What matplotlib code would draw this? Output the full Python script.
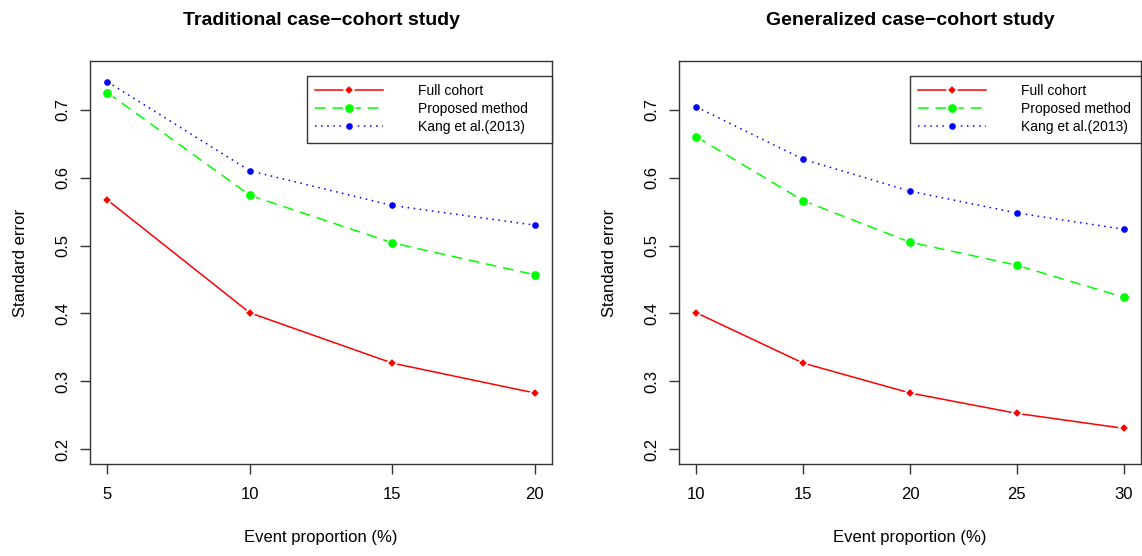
import numpy as np
import matplotlib
matplotlib.use("Agg")
import matplotlib.pyplot as plt

plt.rcParams['font.family'] = ['Liberation Sans', 'DejaVu Sans']

# datos
prop_trad = [5, 10, 15, 20]
full_trad = [0.567, 0.401, 0.327, 0.283]
prop_meth_trad = [0.725, 0.574, 0.504, 0.457]
kang_trad = [0.741, 0.610, 0.559, 0.530]

prop_gen = [10, 15, 20, 25, 30]
full_gen = [0.401, 0.327, 0.283, 0.253, 0.231]
prop_meth_gen = [0.660, 0.566, 0.505, 0.471, 0.424]
kang_gen = [0.704, 0.627, 0.580, 0.548, 0.524]

titulos = ["Traditional case\u2212cohort study", "Generalized case\u2212cohort study"]
nombres = ["Full cohort", "Proposed method", "Kang et al.(2013)"]
yticks = [0.2, 0.3, 0.4, 0.5, 0.6, 0.7]

fig = plt.figure(figsize=(11.42, 5.56), dpi=100)
ax1 = fig.add_axes([0.0791, 0.1649, 0.4040, 0.7259])
ax2 = fig.add_axes([0.5948, 0.1649, 0.4040, 0.7259])

paneles = [
    (ax1, prop_trad, full_trad, prop_meth_trad, kang_trad, titulos[0], 0.469, 0.531),
    (ax2, prop_gen, full_gen, prop_meth_gen, kang_gen, titulos[1], 0.4998, 0.5002),
]

for ax, x, full, prop, kang, titulo, lx, lw in paneles:
    # marcadores con borde blanco para imitar el type="b" de R
    ax.plot(x, full, color='#FF0000', lw=1.1, ls='-', marker='D', ms=5,
            mfc='#FF0000', mec='white', mew=1.2, label=nombres[0])
    ax.plot(x, prop, color='#00FF00', lw=1.1, ls=(0, (7, 4.5)), marker='o', ms=7.5,
            mfc='#00FF00', mec='white', mew=1.2, label=nombres[1])
    ax.plot(x, kang, color='#0000FF', lw=1.1, ls=(0, (1, 3)), marker='o', ms=5.8,
            mfc='#0000FF', mec='white', mew=1.0, label=nombres[2])

    # limites con el 4% extra como en R
    rx = x[-1] - x[0]
    ax.set_xlim(x[0] - 0.04 * rx, x[-1] + 0.04 * rx)
    ax.set_ylim(0.2 - 0.04 * 0.55, 0.75 + 0.04 * 0.55)
    ax.set_xticks(x)
    ax.set_yticks(yticks)
    ax.set_yticklabels([str(v) for v in yticks])
    ax.tick_params(axis='both', direction='out', length=7.2, width=1, labelsize=12, color='#333333')
    ax.tick_params(axis='x', pad=9)
    ax.tick_params(axis='y', pad=7, labelrotation=90)
    for lab in ax.get_yticklabels():
        lab.set_va('center')
    for s in ax.spines.values():
        s.set_linewidth(1)
        s.set_color('#333333')

    ax.set_xlabel("Event proportion (%)", fontsize=12, labelpad=20)
    ax.set_ylabel("Standard error", fontsize=12, labelpad=20)
    ax.set_title(titulo, fontsize=14, fontweight='bold', pad=26)

    leg = ax.legend(loc='upper left', bbox_to_anchor=(lx, 0.963, lw, 0.0), mode='expand',
                    fontsize=10, frameon=True, fancybox=False, framealpha=1,
                    edgecolor='#333333', handlelength=4.9, handletextpad=2.5,
                    borderpad=0.6, labelspacing=0.3, borderaxespad=0, numpoints=1)
    leg.get_frame().set_linewidth(1)

fig.savefig("out.png", dpi=100)
